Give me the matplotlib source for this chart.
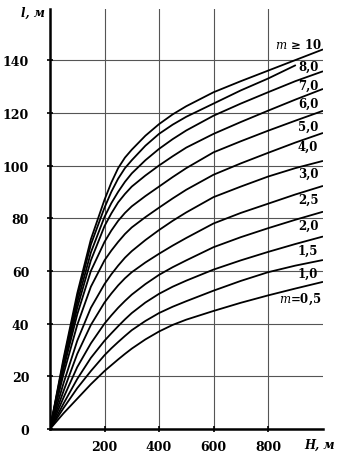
import matplotlib.pyplot as plt

plt.rcParams["font.family"] = ["DejaVu Serif"]
plt.rcParams["mathtext.fontset"] = "dejavuserif"

# depth H, m  ->  length l, m for each value of m
H = [0, 50, 100, 150, 200, 225, 250, 275, 300, 350, 400, 450, 500,
     600, 700, 800, 900, 1000]

L_M10 = [0, 27, 51.5, 72, 87, 93.5, 99, 103, 106, 111.3, 115.7, 119.4, 122.5,
         127.8, 132, 136, 140, 144]
L_M8 = [0, 26, 50, 70, 84, 90, 95, 99, 102, 107.5, 112, 115.5, 118.5,
        123.5, 128.5, 133, 138]
L_M7 = [0, 25, 48, 67, 80.5, 85.7, 90, 93.8, 97, 102, 106.3, 110, 113.3,
        118.9, 123.5, 127.8, 132, 135.7]
L_M6 = [0, 24, 46, 64, 77, 81.8, 86, 89.2, 92, 96.2, 100, 103.5, 106.8,
        112, 116.5, 120.8, 125, 129]
L_M5 = [0, 23, 43.5, 60, 71, 75.3, 79, 82, 84.5, 88.4, 92, 95.6, 99,
        105, 109.2, 113.2, 117, 120.7]
L_M4 = [0, 21, 39.5, 54, 64, 67.7, 71, 74, 76.5, 80.4, 84, 87.5, 90.8,
        96.5, 100.8, 104.8, 108.7, 112.3]
L_M3 = [0, 17.5, 33.5, 46, 55, 58.7, 62, 65, 67.5, 71.7, 75.5, 79, 82.2,
        88, 92, 95.8, 99, 101.7]
L_M25 = [0, 14.5, 28.5, 39.5, 48, 51.4, 54.5, 57.2, 59.5, 63.2, 66.5, 69.6, 72.5,
         78, 82, 85.5, 89, 92.2]
L_M2 = [0, 12, 23.5, 32.5, 40, 43.1, 46, 48.6, 51, 55, 58.5, 61.4, 64,
        69, 72.8, 76.2, 79.4, 82.4]
L_M15 = [0, 9.7, 19, 27, 33.5, 36.3, 39, 41.6, 44, 48, 51.3, 54, 56.3,
         60.5, 64, 67.2, 70.2, 73]
L_M1 = [0, 8, 15.5, 22, 28, 30.6, 33, 35.3, 37.5, 41, 44, 46.4, 48.5,
        52.5, 56.2, 59.5, 62, 64.1]
L_M05 = [0, 6, 11.5, 17, 22, 24.2, 26.4, 28.5, 30.5, 34, 37, 39.5, 41.5,
         44.8, 47.9, 50.7, 53.3, 55.8]

SERIES = [L_M10, L_M8, L_M7, L_M6, L_M5, L_M4, L_M3, L_M25, L_M2, L_M15, L_M1, L_M05]
NAMES = [r"$m$ ≥ 10", "8,0", "7,0", "6,0", "5,0", "4,0", "3,0", "2,5", "2,0",
         "1,5", "1,0", r"$m$=0,5"]

X_TICKS = [200, 400, 600, 800]
Y_TICKS = [0, 20, 40, 60, 80, 100, 120, 140]

# where the curve names sit (data coords, right-aligned)
NAME_X = [998, 985, 985, 985, 985, 985, 985, 985, 985, 985, 985, 998]
NAME_Y = [146.1, 137.8, 130.6, 123.7, 115.0, 107.4, 97.2, 87.3, 77.4, 67.9, 59.2, 49.7]

fig = plt.figure(figsize=(3.4, 4.56), dpi=100)
ax = fig.add_axes([50 / 340, 26 / 456, 272.5 / 340, 420 / 456])

ax.set_xlim(0, 1000)
ax.set_ylim(0, 159.4)

ax.set_xticks(X_TICKS)
ax.set_yticks(Y_TICKS)
ax.grid(True, color="#555555", lw=0.8, zorder=1)

for vals in SERIES:
    ax.plot(H[:len(vals)], vals, color="black", lw=1.3, zorder=3,
            solid_capstyle="round", solid_joinstyle="round")

for name, x, y in zip(NAMES, NAME_X, NAME_Y):
    ax.text(x, y, name, ha="right", va="center", fontsize=8.5,
            fontweight="bold", zorder=4)

for side in ("top", "right"):
    ax.spines[side].set_visible(False)
ax.spines["left"].set_linewidth(1.8)
ax.spines["bottom"].set_linewidth(1.8)

ax.tick_params(axis="both", direction="inout", length=4, width=1.2,
               labelsize=9)
ax.tick_params(axis="y", pad=13)
ax.tick_params(axis="x", pad=6)
for lbl in ax.get_xticklabels() + ax.get_yticklabels():
    lbl.set_fontweight("bold")

ax.text(-18, 158.3, "l, м", ha="right", va="center", fontsize=8.5,
        style="italic", fontweight="bold", clip_on=False)
ax.text(1046, -5.7, "H, м", ha="right", va="center", fontsize=8.5,
        style="italic", fontweight="bold", clip_on=False)

fig.savefig("out.png", dpi=100)
